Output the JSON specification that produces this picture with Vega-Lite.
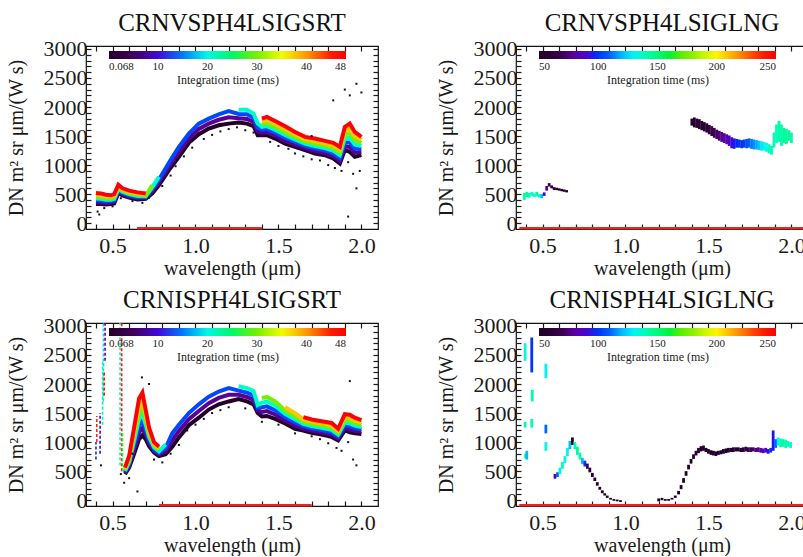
{
"$schema":"https://vega.github.io/schema/vega-lite/v6.json",
"padding":{"left":5,"top":10,"right":0,"bottom":0},
"config":{
 "font":"Liberation Serif",
 "view":{"stroke":"#111","strokeWidth":1.2},
 "axis":{"labelFont":"Liberation Serif","titleFont":"Liberation Serif","labelFontSize":22,"titleFontSize":20,"titleFontWeight":"normal","labelColor":"#1a1a1a","titleColor":"#1a1a1a","tickColor":"#1a1a1a","tickWidth":1.2,"domain":false,"grid":false,"labelOverlap":false,"labelFlush":false,"labelBound":false},
 "title":{"font":"Liberation Serif","fontSize":25,"fontWeight":"normal","color":"#111","offset":2},
 "legend":{"orient":"none","direction":"horizontal","gradientLength":237,"gradientThickness":8,"gradientStrokeWidth":0,"labelFont":"Liberation Serif","labelFontSize":11,"labelColor":"#222","titleFont":"Liberation Serif","titleFontSize":12,"titleFontWeight":"normal","titleColor":"#222","titleOrient":"bottom","titleAnchor":"middle","titlePadding":3,"labelOffset":4,"padding":0}
},
"datasets":{
 "zA":[{"w":0.647,"v":-88},{"w":1.403,"v":-88}],
 "zB":[{"w":0.36,"v":-88},{"w":2.1,"v":-88}],
 "zC":[{"w":0.78,"v":-88},{"w":1.7,"v":-88}],
 "zD":[{"w":0.36,"v":-88},{"w":2.1,"v":-88}],
 "A":[
{"w":0.40,"v":330,"t":0.068,"s":"0"},{"w":0.43,"v":330,"t":0.068,"s":"0"},{"w":0.46,"v":320,"t":0.068,"s":"0"},{"w":0.49,"v":330,"t":0.068,"s":"0"},{"w":0.51,"v":340,"t":0.068,"s":"0"},{"w":0.535,"v":520,"t":0.068,"s":"0"},{"w":0.56,"v":480,"t":0.068,"s":"0"},{"w":0.60,"v":440,"t":0.068,"s":"0"},{"w":0.65,"v":410,"t":0.068,"s":"0"},{"w":0.70,"v":420,"t":0.068,"s":"0"},{"w":0.74,"v":514,"t":0.068,"s":"0"},{"w":0.78,"v":657,"t":0.068,"s":"0"},{"w":0.84,"v":914,"t":0.068,"s":"0"},{"w":0.90,"v":1143,"t":0.068,"s":"0"},{"w":0.96,"v":1383,"t":0.068,"s":"0"},{"w":1.02,"v":1531,"t":0.068,"s":"0"},{"w":1.08,"v":1628,"t":0.068,"s":"0"},{"w":1.14,"v":1686,"t":0.068,"s":"0"},{"w":1.20,"v":1714,"t":0.068,"s":"0"},{"w":1.26,"v":1731,"t":0.068,"s":"0"},{"w":1.31,"v":1714,"t":0.068,"s":"0"},{"w":1.35,"v":1669,"t":0.068,"s":"0"},{"w":1.375,"v":1514,"t":0.068,"s":"0"},{"w":1.40,"v":1514,"t":0.068,"s":"0"},{"w":1.43,"v":1514,"t":0.068,"s":"0"},{"w":1.48,"v":1457,"t":0.068,"s":"0"},{"w":1.54,"v":1371,"t":0.068,"s":"0"},{"w":1.60,"v":1314,"t":0.068,"s":"0"},{"w":1.66,"v":1257,"t":0.068,"s":"0"},{"w":1.72,"v":1200,"t":0.068,"s":"0"},{"w":1.78,"v":1171,"t":0.068,"s":"0"},{"w":1.83,"v":1114,"t":0.068,"s":"0"},{"w":1.87,"v":1028,"t":0.068,"s":"0"},{"w":1.90,"v":1257,"t":0.068,"s":"0"},{"w":1.93,"v":1228,"t":0.068,"s":"0"},{"w":1.96,"v":1143,"t":0.068,"s":"0"},{"w":2.00,"v":1171,"t":0.068,"s":"0"},
{"w":0.40,"v":362,"t":7,"s":"1"},{"w":0.43,"v":360,"t":7,"s":"1"},{"w":0.46,"v":348,"t":7,"s":"1"},{"w":0.49,"v":355,"t":7,"s":"1"},{"w":0.51,"v":367,"t":7,"s":"1"},{"w":0.535,"v":543,"t":7,"s":"1"},{"w":0.56,"v":500,"t":7,"s":"1"},{"w":0.60,"v":460,"t":7,"s":"1"},{"w":0.65,"v":430,"t":7,"s":"1"},{"w":0.70,"v":435,"t":7,"s":"1"},{"w":0.74,"v":550,"t":7,"s":"1"},{"w":0.78,"v":705,"t":7,"s":"1"},{"w":0.84,"v":977,"t":7,"s":"1"},{"w":0.90,"v":1228,"t":7,"s":"1"},{"w":0.96,"v":1463,"t":7,"s":"1"},{"w":1.02,"v":1622,"t":7,"s":"1"},{"w":1.08,"v":1714,"t":7,"s":"1"},{"w":1.14,"v":1780,"t":7,"s":"1"},{"w":1.20,"v":1822,"t":7,"s":"1"},{"w":1.26,"v":1805,"t":7,"s":"1"},{"w":1.31,"v":1794,"t":7,"s":"1"},{"w":1.35,"v":1741,"t":7,"s":"1"},{"w":1.375,"v":1581,"t":7,"s":"1"},{"w":1.40,"v":1562,"t":7,"s":"1"},{"w":1.43,"v":1567,"t":7,"s":"1"},{"w":1.48,"v":1508,"t":7,"s":"1"},{"w":1.54,"v":1421,"t":7,"s":"1"},{"w":1.60,"v":1357,"t":7,"s":"1"},{"w":1.66,"v":1295,"t":7,"s":"1"},{"w":1.72,"v":1243,"t":7,"s":"1"},{"w":1.78,"v":1212,"t":7,"s":"1"},{"w":1.83,"v":1159,"t":7,"s":"1"},{"w":1.87,"v":1076,"t":7,"s":"1"},{"w":1.90,"v":1324,"t":7,"s":"1"},{"w":1.93,"v":1309,"t":7,"s":"1"},{"w":1.96,"v":1214,"t":7,"s":"1"},{"w":2.00,"v":1224,"t":7,"s":"1"},
{"w":0.40,"v":393,"t":13,"s":"2"},{"w":0.43,"v":390,"t":13,"s":"2"},{"w":0.46,"v":377,"t":13,"s":"2"},{"w":0.49,"v":380,"t":13,"s":"2"},{"w":0.51,"v":393,"t":13,"s":"2"},{"w":0.535,"v":567,"t":13,"s":"2"},{"w":0.56,"v":520,"t":13,"s":"2"},{"w":0.60,"v":480,"t":13,"s":"2"},{"w":0.65,"v":450,"t":13,"s":"2"},{"w":0.70,"v":450,"t":13,"s":"2"},{"w":0.74,"v":586,"t":13,"s":"2"},{"w":0.78,"v":752,"t":13,"s":"2"},{"w":0.84,"v":1040,"t":13,"s":"2"},{"w":0.90,"v":1314,"t":13,"s":"2"},{"w":0.96,"v":1543,"t":13,"s":"2"},{"w":1.02,"v":1714,"t":13,"s":"2"},{"w":1.08,"v":1800,"t":13,"s":"2"},{"w":1.14,"v":1874,"t":13,"s":"2"},{"w":1.20,"v":1931,"t":13,"s":"2"},{"w":1.26,"v":1880,"t":13,"s":"2"},{"w":1.31,"v":1874,"t":13,"s":"2"},{"w":1.35,"v":1814,"t":13,"s":"2"},{"w":1.375,"v":1647,"t":13,"s":"2"},{"w":1.40,"v":1609,"t":13,"s":"2"},{"w":1.43,"v":1619,"t":13,"s":"2"},{"w":1.48,"v":1558,"t":13,"s":"2"},{"w":1.54,"v":1470,"t":13,"s":"2"},{"w":1.60,"v":1400,"t":13,"s":"2"},{"w":1.66,"v":1333,"t":13,"s":"2"},{"w":1.72,"v":1286,"t":13,"s":"2"},{"w":1.78,"v":1253,"t":13,"s":"2"},{"w":1.83,"v":1204,"t":13,"s":"2"},{"w":1.87,"v":1123,"t":13,"s":"2"},{"w":1.90,"v":1390,"t":13,"s":"2"},{"w":1.93,"v":1390,"t":13,"s":"2"},{"w":1.96,"v":1286,"t":13,"s":"2"},{"w":2.00,"v":1276,"t":13,"s":"2"},
{"w":0.40,"v":425,"t":21,"s":"3a"},{"w":0.43,"v":420,"t":21,"s":"3a"},{"w":0.46,"v":405,"t":21,"s":"3a"},{"w":0.49,"v":405,"t":21,"s":"3a"},{"w":0.51,"v":420,"t":21,"s":"3a"},{"w":0.535,"v":590,"t":21,"s":"3a"},{"w":0.56,"v":540,"t":21,"s":"3a"},{"w":0.60,"v":500,"t":21,"s":"3a"},{"w":0.65,"v":470,"t":21,"s":"3a"},{"w":0.70,"v":465,"t":21,"s":"3a"},{"w":0.74,"v":621,"t":21,"s":"3a"},{"w":0.78,"v":800,"t":21,"s":"3a"},
{"w":1.26,"v":1954,"t":21,"s":"3b"},{"w":1.31,"v":1954,"t":21,"s":"3b"},{"w":1.35,"v":1886,"t":21,"s":"3b"},{"w":1.375,"v":1714,"t":21,"s":"3b"},{"w":1.40,"v":1657,"t":21,"s":"3b"},{"w":1.43,"v":1672,"t":21,"s":"3b"},{"w":1.48,"v":1609,"t":21,"s":"3b"},{"w":1.54,"v":1520,"t":21,"s":"3b"},{"w":1.60,"v":1443,"t":21,"s":"3b"},{"w":1.66,"v":1372,"t":21,"s":"3b"},{"w":1.72,"v":1329,"t":21,"s":"3b"},{"w":1.78,"v":1294,"t":21,"s":"3b"},{"w":1.83,"v":1249,"t":21,"s":"3b"},{"w":1.87,"v":1171,"t":21,"s":"3b"},{"w":1.90,"v":1457,"t":21,"s":"3b"},{"w":1.93,"v":1471,"t":21,"s":"3b"},{"w":1.96,"v":1357,"t":21,"s":"3b"},{"w":2.00,"v":1329,"t":21,"s":"3b"},
{"w":0.40,"v":457,"t":30,"s":"4a"},{"w":0.43,"v":450,"t":30,"s":"4a"},{"w":0.46,"v":433,"t":30,"s":"4a"},{"w":0.49,"v":430,"t":30,"s":"4a"},{"w":0.51,"v":447,"t":30,"s":"4a"},{"w":0.535,"v":613,"t":30,"s":"4a"},{"w":0.56,"v":560,"t":30,"s":"4a"},{"w":0.60,"v":520,"t":30,"s":"4a"},{"w":0.65,"v":490,"t":30,"s":"4a"},{"w":0.70,"v":480,"t":30,"s":"4a"},{"w":0.74,"v":657,"t":30,"s":"4a"},
{"w":1.40,"v":1705,"t":30,"s":"4b"},{"w":1.43,"v":1724,"t":30,"s":"4b"},{"w":1.48,"v":1659,"t":30,"s":"4b"},{"w":1.54,"v":1570,"t":30,"s":"4b"},{"w":1.60,"v":1485,"t":30,"s":"4b"},{"w":1.66,"v":1410,"t":30,"s":"4b"},{"w":1.72,"v":1371,"t":30,"s":"4b"},{"w":1.78,"v":1335,"t":30,"s":"4b"},{"w":1.83,"v":1293,"t":30,"s":"4b"},{"w":1.87,"v":1219,"t":30,"s":"4b"},{"w":1.90,"v":1524,"t":30,"s":"4b"},{"w":1.93,"v":1552,"t":30,"s":"4b"},{"w":1.96,"v":1428,"t":30,"s":"4b"},{"w":2.00,"v":1381,"t":30,"s":"4b"},
{"w":0.40,"v":488,"t":38,"s":"5a"},{"w":0.43,"v":480,"t":38,"s":"5a"},{"w":0.46,"v":462,"t":38,"s":"5a"},{"w":0.49,"v":455,"t":38,"s":"5a"},{"w":0.51,"v":473,"t":38,"s":"5a"},{"w":0.535,"v":637,"t":38,"s":"5a"},{"w":0.56,"v":580,"t":38,"s":"5a"},{"w":0.60,"v":540,"t":38,"s":"5a"},{"w":0.65,"v":510,"t":38,"s":"5a"},{"w":0.70,"v":495,"t":38,"s":"5a"},
{"w":1.40,"v":1752,"t":38,"s":"5b"},{"w":1.43,"v":1777,"t":38,"s":"5b"},{"w":1.48,"v":1710,"t":38,"s":"5b"},{"w":1.54,"v":1619,"t":38,"s":"5b"},{"w":1.60,"v":1528,"t":38,"s":"5b"},{"w":1.66,"v":1448,"t":38,"s":"5b"},{"w":1.72,"v":1414,"t":38,"s":"5b"},{"w":1.78,"v":1376,"t":38,"s":"5b"},{"w":1.83,"v":1338,"t":38,"s":"5b"},{"w":1.87,"v":1266,"t":38,"s":"5b"},{"w":1.90,"v":1590,"t":38,"s":"5b"},{"w":1.93,"v":1633,"t":38,"s":"5b"},{"w":1.96,"v":1500,"t":38,"s":"5b"},{"w":2.00,"v":1434,"t":38,"s":"5b"},
{"w":0.40,"v":520,"t":48,"s":"6a"},{"w":0.43,"v":510,"t":48,"s":"6a"},{"w":0.46,"v":490,"t":48,"s":"6a"},{"w":0.49,"v":480,"t":48,"s":"6a"},{"w":0.51,"v":500,"t":48,"s":"6a"},{"w":0.535,"v":660,"t":48,"s":"6a"},{"w":0.56,"v":600,"t":48,"s":"6a"},{"w":0.60,"v":560,"t":48,"s":"6a"},{"w":0.65,"v":530,"t":48,"s":"6a"},{"w":0.70,"v":510,"t":48,"s":"6a"},
{"w":1.40,"v":1800,"t":48,"s":"6b"},{"w":1.43,"v":1829,"t":48,"s":"6b"},{"w":1.48,"v":1760,"t":48,"s":"6b"},{"w":1.54,"v":1669,"t":48,"s":"6b"},{"w":1.60,"v":1571,"t":48,"s":"6b"},{"w":1.66,"v":1486,"t":48,"s":"6b"},{"w":1.72,"v":1457,"t":48,"s":"6b"},{"w":1.78,"v":1417,"t":48,"s":"6b"},{"w":1.83,"v":1383,"t":48,"s":"6b"},{"w":1.87,"v":1314,"t":48,"s":"6b"},{"w":1.90,"v":1657,"t":48,"s":"6b"},{"w":1.93,"v":1714,"t":48,"s":"6b"},{"w":1.96,"v":1571,"t":48,"s":"6b"},{"w":2.00,"v":1486,"t":48,"s":"6b"}
 ],
 "pA":[{"w":0.41,"v":200},{"w":0.42,"v":150},{"w":0.45,"v":260},{"w":0.5,"v":290},{"w":0.55,"v":430},{"w":0.62,"v":380},{"w":0.68,"v":350},{"w":0.72,"v":440},{"w":0.8,"v":640},{"w":0.85,"v":820},{"w":0.88,"v":980},{"w":0.93,"v":1150},{"w":0.98,"v":1300},{"w":1.05,"v":1450},{"w":1.1,"v":1520},{"w":1.15,"v":1580},{"w":1.2,"v":1620},{"w":1.25,"v":1650},{"w":1.3,"v":1600},{"w":1.35,"v":1560},{"w":1.45,"v":1400},{"w":1.5,"v":1330},{"w":1.56,"v":1280},{"w":1.6,"v":1200},{"w":1.65,"v":1150},{"w":1.7,"v":1100},{"w":1.75,"v":1080},{"w":1.8,"v":1000},{"w":1.84,"v":950},{"w":1.88,"v":900},{"w":1.92,"v":1050},{"w":1.95,"v":850},{"w":1.97,"v":600},{"w":1.99,"v":900},{"w":1.83,"v":2114},{"w":1.9,"v":2300},{"w":1.97,"v":2400},{"w":2.0,"v":2250},{"w":1.93,"v":2200},{"w":1.92,"v":114},{"w":1.7,"v":1500}],
 "B":[
{"w":0.39,"lo":400,"hi":520,"t":140},{"w":0.405,"lo":450,"hi":540,"t":145},{"w":0.42,"lo":440,"hi":520,"t":140},{"w":0.435,"lo":470,"hi":540,"t":135},{"w":0.45,"lo":450,"hi":510,"t":140},{"w":0.465,"lo":460,"hi":540,"t":145},{"w":0.48,"lo":440,"hi":500,"t":130},{"w":0.495,"lo":430,"hi":500,"t":120},{"w":0.51,"lo":470,"hi":530,"t":95},{"w":0.525,"lo":560,"hi":640,"t":80},{"w":0.54,"lo":630,"hi":690,"t":70},{"w":0.555,"lo":600,"hi":650,"t":60},{"w":0.57,"lo":570,"hi":620,"t":55},{"w":0.585,"lo":570,"hi":610,"t":55},{"w":0.6,"lo":560,"hi":600,"t":52},{"w":0.615,"lo":550,"hi":590,"t":52},{"w":0.63,"lo":540,"hi":580,"t":52},{"w":0.645,"lo":530,"hi":570,"t":52},
{"w":1.4,"lo":1680,"hi":1800,"t":55},{"w":1.415,"lo":1650,"hi":1820,"t":55},{"w":1.43,"lo":1640,"hi":1800,"t":58},{"w":1.445,"lo":1620,"hi":1790,"t":60},{"w":1.46,"lo":1600,"hi":1760,"t":60},{"w":1.475,"lo":1580,"hi":1740,"t":62},{"w":1.49,"lo":1560,"hi":1720,"t":64},{"w":1.505,"lo":1530,"hi":1690,"t":66},{"w":1.52,"lo":1500,"hi":1670,"t":68},{"w":1.535,"lo":1470,"hi":1640,"t":70},{"w":1.55,"lo":1450,"hi":1610,"t":72},{"w":1.565,"lo":1420,"hi":1590,"t":75},{"w":1.58,"lo":1400,"hi":1570,"t":78},{"w":1.595,"lo":1380,"hi":1550,"t":80},{"w":1.61,"lo":1360,"hi":1530,"t":84},{"w":1.625,"lo":1330,"hi":1510,"t":88},{"w":1.64,"lo":1290,"hi":1480,"t":92},{"w":1.655,"lo":1280,"hi":1460,"t":95},{"w":1.67,"lo":1300,"hi":1450,"t":98},{"w":1.685,"lo":1300,"hi":1440,"t":100},{"w":1.7,"lo":1290,"hi":1430,"t":100},{"w":1.715,"lo":1300,"hi":1440,"t":102},{"w":1.73,"lo":1290,"hi":1450,"t":105},{"w":1.745,"lo":1300,"hi":1460,"t":108},{"w":1.76,"lo":1280,"hi":1450,"t":112},{"w":1.775,"lo":1270,"hi":1440,"t":115},{"w":1.79,"lo":1270,"hi":1430,"t":118},{"w":1.805,"lo":1260,"hi":1420,"t":122},{"w":1.82,"lo":1250,"hi":1410,"t":126},{"w":1.835,"lo":1250,"hi":1400,"t":130},{"w":1.85,"lo":1230,"hi":1380,"t":134},{"w":1.865,"lo":1200,"hi":1360,"t":138},{"w":1.88,"lo":1180,"hi":1330,"t":140},{"w":1.895,"lo":1300,"hi":1560,"t":140},{"w":1.91,"lo":1380,"hi":1700,"t":138},{"w":1.925,"lo":1400,"hi":1760,"t":142},{"w":1.94,"lo":1330,"hi":1700,"t":140},{"w":1.955,"lo":1380,"hi":1640,"t":145},{"w":1.97,"lo":1360,"hi":1620,"t":142},{"w":1.985,"lo":1420,"hi":1600,"t":145},{"w":2.0,"lo":1380,"hi":1560,"t":140}
 ],
 "C":[
{"w":0.575,"v":450,"t":0.068,"s":"0"},{"w":0.60,"v":560,"t":0.068,"s":"0"},{"w":0.63,"v":800,"t":0.068,"s":"0"},{"w":0.66,"v":1050,"t":0.068,"s":"0"},{"w":0.68,"v":1120,"t":0.068,"s":"0"},{"w":0.70,"v":1050,"t":0.068,"s":"0"},{"w":0.72,"v":930,"t":0.068,"s":"0"},{"w":0.75,"v":820,"t":0.068,"s":"0"},{"w":0.78,"v":760,"t":0.068,"s":"0"},{"w":0.82,"v":790,"t":0.068,"s":"0"},{"w":0.86,"v":920,"t":0.068,"s":"0"},{"w":0.90,"v":1080,"t":0.068,"s":"0"},{"w":0.96,"v":1290,"t":0.068,"s":"0"},{"w":1.02,"v":1420,"t":0.068,"s":"0"},{"w":1.08,"v":1560,"t":0.068,"s":"0"},{"w":1.14,"v":1650,"t":0.068,"s":"0"},{"w":1.20,"v":1700,"t":0.068,"s":"0"},{"w":1.26,"v":1740,"t":0.068,"s":"0"},{"w":1.31,"v":1700,"t":0.068,"s":"0"},{"w":1.35,"v":1650,"t":0.068,"s":"0"},{"w":1.375,"v":1500,"t":0.068,"s":"0"},{"w":1.40,"v":1440,"t":0.068,"s":"0"},{"w":1.43,"v":1450,"t":0.068,"s":"0"},{"w":1.48,"v":1400,"t":0.068,"s":"0"},{"w":1.54,"v":1320,"t":0.068,"s":"0"},{"w":1.60,"v":1230,"t":0.068,"s":"0"},{"w":1.65,"v":1200,"t":0.068,"s":"0"},{"w":1.70,"v":1160,"t":0.068,"s":"0"},{"w":1.76,"v":1130,"t":0.068,"s":"0"},{"w":1.82,"v":1090,"t":0.068,"s":"0"},{"w":1.86,"v":1030,"t":0.068,"s":"0"},{"w":1.90,"v":1200,"t":0.068,"s":"0"},{"w":1.93,"v":1170,"t":0.068,"s":"0"},{"w":1.96,"v":1150,"t":0.068,"s":"0"},{"w":2.00,"v":1140,"t":0.068,"s":"0"},
{"w":0.575,"v":468,"t":7,"s":"1"},{"w":0.60,"v":593,"t":7,"s":"1"},{"w":0.63,"v":875,"t":7,"s":"1"},{"w":0.66,"v":1167,"t":7,"s":"1"},{"w":0.68,"v":1242,"t":7,"s":"1"},{"w":0.70,"v":1133,"t":7,"s":"1"},{"w":0.72,"v":983,"t":7,"s":"1"},{"w":0.75,"v":850,"t":7,"s":"1"},{"w":0.78,"v":787,"t":7,"s":"1"},{"w":0.82,"v":847,"t":7,"s":"1"},{"w":0.86,"v":1035,"t":7,"s":"1"},{"w":0.90,"v":1190,"t":7,"s":"1"},{"w":0.96,"v":1395,"t":7,"s":"1"},{"w":1.02,"v":1535,"t":7,"s":"1"},{"w":1.08,"v":1670,"t":7,"s":"1"},{"w":1.14,"v":1760,"t":7,"s":"1"},{"w":1.20,"v":1815,"t":7,"s":"1"},{"w":1.26,"v":1813,"t":7,"s":"1"},{"w":1.31,"v":1777,"t":7,"s":"1"},{"w":1.35,"v":1727,"t":7,"s":"1"},{"w":1.375,"v":1547,"t":7,"s":"1"},{"w":1.40,"v":1520,"t":7,"s":"1"},{"w":1.43,"v":1533,"t":7,"s":"1"},{"w":1.48,"v":1475,"t":7,"s":"1"},{"w":1.54,"v":1376,"t":7,"s":"1"},{"w":1.60,"v":1284,"t":7,"s":"1"},{"w":1.65,"v":1238,"t":7,"s":"1"},{"w":1.70,"v":1198,"t":7,"s":"1"},{"w":1.76,"v":1168,"t":7,"s":"1"},{"w":1.82,"v":1130,"t":7,"s":"1"},{"w":1.86,"v":1063,"t":7,"s":"1"},{"w":1.90,"v":1247,"t":7,"s":"1"},{"w":1.93,"v":1220,"t":7,"s":"1"},{"w":1.96,"v":1195,"t":7,"s":"1"},{"w":2.00,"v":1180,"t":7,"s":"1"},
{"w":0.575,"v":487,"t":13,"s":"2"},{"w":0.60,"v":627,"t":13,"s":"2"},{"w":0.63,"v":950,"t":13,"s":"2"},{"w":0.66,"v":1283,"t":13,"s":"2"},{"w":0.68,"v":1363,"t":13,"s":"2"},{"w":0.70,"v":1217,"t":13,"s":"2"},{"w":0.72,"v":1037,"t":13,"s":"2"},{"w":0.75,"v":880,"t":13,"s":"2"},{"w":0.78,"v":813,"t":13,"s":"2"},{"w":0.82,"v":903,"t":13,"s":"2"},{"w":0.86,"v":1150,"t":13,"s":"2"},{"w":0.90,"v":1300,"t":13,"s":"2"},{"w":0.96,"v":1500,"t":13,"s":"2"},{"w":1.02,"v":1650,"t":13,"s":"2"},{"w":1.08,"v":1780,"t":13,"s":"2"},{"w":1.14,"v":1870,"t":13,"s":"2"},{"w":1.20,"v":1930,"t":13,"s":"2"},{"w":1.26,"v":1887,"t":13,"s":"2"},{"w":1.31,"v":1853,"t":13,"s":"2"},{"w":1.35,"v":1803,"t":13,"s":"2"},{"w":1.375,"v":1593,"t":13,"s":"2"},{"w":1.40,"v":1600,"t":13,"s":"2"},{"w":1.43,"v":1615,"t":13,"s":"2"},{"w":1.48,"v":1550,"t":13,"s":"2"},{"w":1.54,"v":1432,"t":13,"s":"2"},{"w":1.60,"v":1338,"t":13,"s":"2"},{"w":1.65,"v":1277,"t":13,"s":"2"},{"w":1.70,"v":1237,"t":13,"s":"2"},{"w":1.76,"v":1207,"t":13,"s":"2"},{"w":1.82,"v":1170,"t":13,"s":"2"},{"w":1.86,"v":1097,"t":13,"s":"2"},{"w":1.90,"v":1293,"t":13,"s":"2"},{"w":1.93,"v":1270,"t":13,"s":"2"},{"w":1.96,"v":1240,"t":13,"s":"2"},{"w":2.00,"v":1220,"t":13,"s":"2"},
{"w":0.575,"v":505,"t":21,"s":"3a"},{"w":0.60,"v":660,"t":21,"s":"3a"},{"w":0.63,"v":1025,"t":21,"s":"3a"},{"w":0.66,"v":1400,"t":21,"s":"3a"},{"w":0.68,"v":1485,"t":21,"s":"3a"},{"w":0.70,"v":1300,"t":21,"s":"3a"},{"w":0.72,"v":1090,"t":21,"s":"3a"},{"w":0.75,"v":910,"t":21,"s":"3a"},{"w":0.78,"v":840,"t":21,"s":"3a"},{"w":0.82,"v":960,"t":21,"s":"3a"},
{"w":1.26,"v":1960,"t":21,"s":"3b"},{"w":1.31,"v":1930,"t":21,"s":"3b"},{"w":1.35,"v":1880,"t":21,"s":"3b"},{"w":1.375,"v":1640,"t":21,"s":"3b"},{"w":1.40,"v":1680,"t":21,"s":"3b"},{"w":1.43,"v":1698,"t":21,"s":"3b"},{"w":1.48,"v":1625,"t":21,"s":"3b"},{"w":1.54,"v":1488,"t":21,"s":"3b"},{"w":1.60,"v":1392,"t":21,"s":"3b"},{"w":1.65,"v":1315,"t":21,"s":"3b"},{"w":1.70,"v":1275,"t":21,"s":"3b"},{"w":1.76,"v":1245,"t":21,"s":"3b"},{"w":1.82,"v":1210,"t":21,"s":"3b"},{"w":1.86,"v":1130,"t":21,"s":"3b"},{"w":1.90,"v":1340,"t":21,"s":"3b"},{"w":1.93,"v":1320,"t":21,"s":"3b"},{"w":1.96,"v":1285,"t":21,"s":"3b"},{"w":2.00,"v":1260,"t":21,"s":"3b"},
{"w":0.575,"v":523,"t":30,"s":"4a"},{"w":0.60,"v":693,"t":30,"s":"4a"},{"w":0.63,"v":1100,"t":30,"s":"4a"},{"w":0.66,"v":1517,"t":30,"s":"4a"},{"w":0.68,"v":1607,"t":30,"s":"4a"},{"w":0.70,"v":1383,"t":30,"s":"4a"},{"w":0.72,"v":1143,"t":30,"s":"4a"},{"w":0.75,"v":940,"t":30,"s":"4a"},{"w":0.78,"v":867,"t":30,"s":"4a"},
{"w":1.40,"v":1760,"t":30,"s":"4b"},{"w":1.43,"v":1780,"t":30,"s":"4b"},{"w":1.48,"v":1700,"t":30,"s":"4b"},{"w":1.54,"v":1544,"t":30,"s":"4b"},{"w":1.60,"v":1446,"t":30,"s":"4b"},{"w":1.65,"v":1353,"t":30,"s":"4b"},{"w":1.70,"v":1313,"t":30,"s":"4b"},{"w":1.76,"v":1283,"t":30,"s":"4b"},{"w":1.82,"v":1250,"t":30,"s":"4b"},{"w":1.86,"v":1163,"t":30,"s":"4b"},{"w":1.90,"v":1387,"t":30,"s":"4b"},{"w":1.93,"v":1370,"t":30,"s":"4b"},{"w":1.96,"v":1330,"t":30,"s":"4b"},{"w":2.00,"v":1300,"t":30,"s":"4b"},
{"w":0.575,"v":542,"t":38,"s":"5a"},{"w":0.60,"v":727,"t":38,"s":"5a"},{"w":0.63,"v":1175,"t":38,"s":"5a"},{"w":0.66,"v":1633,"t":38,"s":"5a"},{"w":0.68,"v":1728,"t":38,"s":"5a"},{"w":0.70,"v":1467,"t":38,"s":"5a"},{"w":0.72,"v":1197,"t":38,"s":"5a"},{"w":0.75,"v":970,"t":38,"s":"5a"},{"w":0.78,"v":893,"t":38,"s":"5a"},
{"w":1.54,"v":1600,"t":38,"s":"5b"},{"w":1.60,"v":1500,"t":38,"s":"5b"},{"w":1.65,"v":1392,"t":38,"s":"5b"},{"w":1.70,"v":1352,"t":38,"s":"5b"},{"w":1.76,"v":1322,"t":38,"s":"5b"},{"w":1.82,"v":1290,"t":38,"s":"5b"},{"w":1.86,"v":1197,"t":38,"s":"5b"},{"w":1.90,"v":1433,"t":38,"s":"5b"},{"w":1.93,"v":1420,"t":38,"s":"5b"},{"w":1.96,"v":1375,"t":38,"s":"5b"},{"w":2.00,"v":1340,"t":38,"s":"5b"},
{"w":0.575,"v":560,"t":48,"s":"6a"},{"w":0.60,"v":760,"t":48,"s":"6a"},{"w":0.63,"v":1250,"t":48,"s":"6a"},{"w":0.66,"v":1750,"t":48,"s":"6a"},{"w":0.68,"v":1850,"t":48,"s":"6a"},{"w":0.70,"v":1550,"t":48,"s":"6a"},{"w":0.72,"v":1250,"t":48,"s":"6a"},{"w":0.75,"v":1000,"t":48,"s":"6a"},{"w":0.78,"v":920,"t":48,"s":"6a"},
{"w":1.65,"v":1430,"t":48,"s":"6b"},{"w":1.70,"v":1390,"t":48,"s":"6b"},{"w":1.76,"v":1360,"t":48,"s":"6b"},{"w":1.82,"v":1330,"t":48,"s":"6b"},{"w":1.86,"v":1230,"t":48,"s":"6b"},{"w":1.90,"v":1480,"t":48,"s":"6b"},{"w":1.93,"v":1470,"t":48,"s":"6b"},{"w":1.96,"v":1420,"t":48,"s":"6b"},{"w":2.00,"v":1380,"t":48,"s":"6b"}
 ],
 "sC":[{"w":0.400,"lo":700,"hi":1000,"t":12},{"w":0.405,"lo":1000,"hi":1450,"t":44},{"w":0.425,"lo":800,"hi":1500,"t":10},{"w":0.44,"lo":1300,"hi":2400,"t":22},{"w":0.445,"lo":1700,"hi":3100,"t":18},{"w":0.45,"lo":1800,"hi":2200,"t":46},{"w":0.455,"lo":2400,"hi":3100,"t":8},{"w":0.545,"lo":600,"hi":3100,"t":20},{"w":0.555,"lo":500,"hi":3100,"t":46},{"w":0.56,"lo":500,"hi":1200,"t":28}],
 "pC":[{"w":0.57,"v":300},{"w":0.6,"v":380},{"w":0.65,"v":150},{"w":0.62,"v":800},{"w":0.677,"v":2114},{"w":0.72,"v":2000},{"w":0.75,"v":700},{"w":0.8,"v":650},{"w":0.85,"v":800},{"w":0.9,"v":950},{"w":0.95,"v":1200},{"w":1.0,"v":1300},{"w":1.05,"v":1400},{"w":1.1,"v":1500},{"w":1.15,"v":1550},{"w":1.2,"v":1600},{"w":1.3,"v":1580},{"w":1.4,"v":1350},{"w":1.5,"v":1300},{"w":1.6,"v":1150},{"w":1.7,"v":1100},{"w":1.75,"v":1050},{"w":1.8,"v":980},{"w":1.85,"v":900},{"w":1.88,"v":850},{"w":1.92,"v":1000},{"w":1.95,"v":700},{"w":1.97,"v":600},{"w":1.93,"v":2050},{"w":0.43,"v":600},{"w":0.55,"v":450}],
 "D":[
{"w":0.395,"lo":2400,"hi":2700,"t":135},{"w":0.395,"lo":1250,"hi":1350,"t":140},{"w":0.398,"lo":720,"hi":800,"t":140},{"w":0.405,"lo":700,"hi":850,"t":120},{"w":0.435,"lo":2200,"hi":2800,"t":100},{"w":0.438,"lo":1700,"hi":1900,"t":140},{"w":0.435,"lo":1250,"hi":1400,"t":140},{"w":0.52,"lo":2100,"hi":2350,"t":130},{"w":0.52,"lo":1150,"hi":1300,"t":110},{"w":0.52,"lo":850,"hi":1000,"t":135},
{"w":0.575,"lo":370,"hi":450,"t":80},{"w":0.59,"lo":400,"hi":480,"t":110},{"w":0.605,"lo":450,"hi":560,"t":130},{"w":0.62,"lo":540,"hi":660,"t":140},{"w":0.635,"lo":640,"hi":760,"t":135},{"w":0.65,"lo":760,"hi":900,"t":130},{"w":0.665,"lo":880,"hi":1020,"t":120},{"w":0.68,"lo":950,"hi":1080,"t":60},{"w":0.695,"lo":880,"hi":1000,"t":140},{"w":0.71,"lo":780,"hi":920,"t":145},{"w":0.725,"lo":700,"hi":820,"t":140},{"w":0.74,"lo":620,"hi":730,"t":120},{"w":0.755,"lo":580,"hi":680,"t":100},{"w":0.77,"lo":540,"hi":630,"t":70},{"w":0.785,"lo":480,"hi":560,"t":55},{"w":0.8,"lo":400,"hi":470,"t":50},{"w":0.815,"lo":330,"hi":390,"t":50},{"w":0.83,"lo":250,"hi":310,"t":50},{"w":0.845,"lo":180,"hi":230,"t":50},{"w":0.86,"lo":120,"hi":170,"t":50},{"w":0.875,"lo":80,"hi":120,"t":50},{"w":0.89,"lo":40,"hi":80,"t":50},{"w":0.91,"lo":10,"hi":40,"t":50},{"w":0.93,"lo":-10,"hi":20,"t":50},{"w":0.95,"lo":-20,"hi":10,"t":50},{"w":0.97,"lo":-30,"hi":0,"t":50},
{"w":1.2,"lo":-20,"hi":30,"t":50},{"w":1.22,"lo":0,"hi":40,"t":50},{"w":1.24,"lo":-10,"hi":20,"t":50},{"w":1.26,"lo":-10,"hi":20,"t":50},{"w":1.28,"lo":10,"hi":40,"t":50},{"w":1.3,"lo":40,"hi":80,"t":50},{"w":1.32,"lo":100,"hi":160,"t":50},{"w":1.335,"lo":190,"hi":260,"t":50},{"w":1.35,"lo":300,"hi":380,"t":50},{"w":1.365,"lo":420,"hi":500,"t":50},{"w":1.38,"lo":530,"hi":610,"t":50},{"w":1.395,"lo":630,"hi":710,"t":50},{"w":1.41,"lo":710,"hi":790,"t":50},{"w":1.425,"lo":770,"hi":850,"t":50},{"w":1.44,"lo":810,"hi":900,"t":50},{"w":1.455,"lo":840,"hi":930,"t":50},{"w":1.47,"lo":850,"hi":940,"t":50},{"w":1.485,"lo":830,"hi":900,"t":50},{"w":1.5,"lo":800,"hi":880,"t":50},{"w":1.515,"lo":780,"hi":860,"t":50},{"w":1.53,"lo":770,"hi":850,"t":50},{"w":1.545,"lo":760,"hi":840,"t":50},{"w":1.56,"lo":780,"hi":850,"t":50},{"w":1.575,"lo":790,"hi":860,"t":50},{"w":1.59,"lo":800,"hi":880,"t":50},{"w":1.605,"lo":810,"hi":890,"t":52},{"w":1.62,"lo":820,"hi":900,"t":52},{"w":1.635,"lo":830,"hi":900,"t":52},{"w":1.65,"lo":830,"hi":910,"t":55},{"w":1.665,"lo":840,"hi":910,"t":55},{"w":1.68,"lo":840,"hi":910,"t":58},{"w":1.695,"lo":830,"hi":900,"t":60},{"w":1.71,"lo":830,"hi":910,"t":62},{"w":1.725,"lo":840,"hi":920,"t":65},{"w":1.74,"lo":830,"hi":910,"t":68},{"w":1.755,"lo":830,"hi":910,"t":70},{"w":1.77,"lo":840,"hi":910,"t":72},{"w":1.785,"lo":830,"hi":900,"t":75},{"w":1.8,"lo":830,"hi":910,"t":78},{"w":1.815,"lo":820,"hi":900,"t":82},{"w":1.83,"lo":810,"hi":890,"t":85},{"w":1.845,"lo":820,"hi":900,"t":90},{"w":1.86,"lo":800,"hi":880,"t":95},{"w":1.875,"lo":820,"hi":900,"t":100},{"w":1.89,"lo":850,"hi":1200,"t":95},{"w":1.905,"lo":900,"hi":1050,"t":110},{"w":1.92,"lo":940,"hi":1080,"t":130},{"w":1.935,"lo":910,"hi":1060,"t":140},{"w":1.95,"lo":920,"hi":1050,"t":145},{"w":1.965,"lo":900,"hi":1040,"t":140},{"w":1.98,"lo":920,"hi":1020,"t":140},{"w":1.995,"lo":900,"hi":1000,"t":135}
 ]
},
"columns":2,
"spacing":{"row":8,"column":55},
"resolve":{"scale":{"color":"independent","x":"independent","y":"independent"},"legend":{"color":"independent"}},
"concat":[
{
 "width":292,"height":183,
 "title":"CRNVSPH4LSIGSRT",
 "resolve":{"axis":{"x":"independent","y":"independent"}},
 "layer":[
  {"data":{"name":"zA"},"mark":{"type":"line","color":"#e8262a","strokeWidth":2.5},
   "encoding":{
    "x":{"field":"w","type":"quantitative","scale":{"domain":[0.34,2.1],"nice":false,"zero":false},"axis":{"orient":"bottom","title":"wavelength (μm)","values":[0.4,0.5,0.6,0.7,0.8,0.9,1.0,1.1,1.2,1.3,1.4,1.5,1.6,1.7,1.8,1.9,2.0],"format":".1f","labelExpr":"(datum.value==0.5||datum.value==1||datum.value==1.5||datum.value==2)?datum.label:''","tickSize":-5,"labelPadding":11,"titlePadding":2}},
    "y":{"field":"v","type":"quantitative","scale":{"domain":[-100,3050],"nice":false,"zero":false},"axis":{"orient":"left","title":"DN m² sr μm/(W s)","values":[0,100,200,300,400,500,600,700,800,900,1000,1100,1200,1300,1400,1500,1600,1700,1800,1900,2000,2100,2200,2300,2400,2500,2600,2700,2800,2900,3000],"format":"d","labelExpr":"datum.value%500==0?datum.label:''","tickSize":-5,"labelPadding":4,"titlePadding":17}}}},
  {"data":{"name":"A"},"mark":{"type":"line","strokeWidth":4},
   "encoding":{
    "x":{"field":"w","type":"quantitative","axis":null},
    "y":{"field":"v","type":"quantitative","axis":null},
    "detail":{"field":"s"},
    "color":{"field":"t","type":"quantitative","scale":{"domain":[0.068,3.9,7.26,11.09,14.45,18.76,22.1,27.39,32.18,35.54,40.33,44.17,48],"range":["#000000","#30003c","#5c00a0","#1414f0","#0064ff","#00f0ff","#00ffa0","#00f000","#a0f000","#ffff00","#ff9000","#ff2000","#ff0000"]},"legend":{"title":"Integration time (ms)","legendX":23,"legendY":5,"values":[0.068,10,20,30,40,48],"labelExpr":"''+datum.value"}}}},
  {"data":{"name":"pA"},"mark":{"type":"square","size":4,"color":"#111","opacity":1},
   "encoding":{"x":{"field":"w","type":"quantitative","axis":null},"y":{"field":"v","type":"quantitative","axis":null}}},
  {"data":{"name":"zA"},"mark":{"type":"line","strokeOpacity":0},
   "encoding":{
    "x":{"field":"w","type":"quantitative","axis":{"orient":"top","title":null,"labels":false,"values":[0.4,0.5,0.6,0.7,0.8,0.9,1.0,1.1,1.2,1.3,1.4,1.5,1.6,1.7,1.8,1.9,2.0],"tickSize":-5}},
    "y":{"field":"v","type":"quantitative","axis":{"orient":"right","title":null,"labels":false,"values":[0,100,200,300,400,500,600,700,800,900,1000,1100,1200,1300,1400,1500,1600,1700,1800,1900,2000,2100,2200,2300,2400,2500,2600,2700,2800,2900,3000],"tickSize":-5}}}}
 ]
},
{
 "width":292,"height":183,
 "title":"CRNVSPH4LSIGLNG",
 "resolve":{"axis":{"x":"independent","y":"independent"}},
 "layer":[
  {"data":{"name":"zB"},"mark":{"type":"line","color":"#e8262a","strokeWidth":2.5},
   "encoding":{
    "x":{"field":"w","type":"quantitative","scale":{"domain":[0.34,2.1],"nice":false,"zero":false},"axis":{"orient":"bottom","title":"wavelength (μm)","values":[0.4,0.5,0.6,0.7,0.8,0.9,1.0,1.1,1.2,1.3,1.4,1.5,1.6,1.7,1.8,1.9,2.0],"format":".1f","labelExpr":"(datum.value==0.5||datum.value==1||datum.value==1.5||datum.value==2)?datum.label:''","tickSize":-5,"labelPadding":11,"titlePadding":2}},
    "y":{"field":"v","type":"quantitative","scale":{"domain":[-100,3050],"nice":false,"zero":false},"axis":{"orient":"left","title":"DN m² sr μm/(W s)","values":[0,100,200,300,400,500,600,700,800,900,1000,1100,1200,1300,1400,1500,1600,1700,1800,1900,2000,2100,2200,2300,2400,2500,2600,2700,2800,2900,3000],"format":"d","labelExpr":"datum.value%500==0?datum.label:''","tickSize":-5,"labelPadding":4,"titlePadding":17}}}},
  {"data":{"name":"B"},"mark":{"type":"rule","strokeWidth":2.8},
   "encoding":{
    "x":{"field":"w","type":"quantitative","axis":null},
    "y":{"field":"lo","type":"quantitative","axis":null},
    "y2":{"field":"hi"},
    "color":{"field":"t","type":"quantitative","scale":{"domain":[50,66,80,96,110,128,142,164,184,198,218,234,250],"range":["#000000","#30003c","#5c00a0","#1414f0","#0064ff","#00f0ff","#00ffa0","#00f000","#a0f000","#ffff00","#ff9000","#ff2000","#ff0000"]},"legend":{"title":"Integration time (ms)","legendX":23,"legendY":5,"values":[50,100,150,200,250],"labelExpr":"''+datum.value"}}}},
  {"data":{"name":"zB"},"mark":{"type":"line","strokeOpacity":0},
   "encoding":{
    "x":{"field":"w","type":"quantitative","axis":{"orient":"top","title":null,"labels":false,"values":[0.4,0.5,0.6,0.7,0.8,0.9,1.0,1.1,1.2,1.3,1.4,1.5,1.6,1.7,1.8,1.9,2.0],"tickSize":-5}},
    "y":{"field":"v","type":"quantitative","axis":{"orient":"right","title":null,"labels":false,"values":[0,100,200,300,400,500,600,700,800,900,1000,1100,1200,1300,1400,1500,1600,1700,1800,1900,2000,2100,2200,2300,2400,2500,2600,2700,2800,2900,3000],"tickSize":-5}}}}
 ]
},
{
 "width":292,"height":183,
 "title":"CRNISPH4LSIGSRT",
 "resolve":{"axis":{"x":"independent","y":"independent"}},
 "layer":[
  {"data":{"name":"zC"},"mark":{"type":"line","color":"#e8262a","strokeWidth":2.5},
   "encoding":{
    "x":{"field":"w","type":"quantitative","scale":{"domain":[0.34,2.1],"nice":false,"zero":false},"axis":{"orient":"bottom","title":"wavelength (μm)","values":[0.4,0.5,0.6,0.7,0.8,0.9,1.0,1.1,1.2,1.3,1.4,1.5,1.6,1.7,1.8,1.9,2.0],"format":".1f","labelExpr":"(datum.value==0.5||datum.value==1||datum.value==1.5||datum.value==2)?datum.label:''","tickSize":-5,"labelPadding":11,"titlePadding":2}},
    "y":{"field":"v","type":"quantitative","scale":{"domain":[-100,3050],"nice":false,"zero":false},"axis":{"orient":"left","title":"DN m² sr μm/(W s)","values":[0,100,200,300,400,500,600,700,800,900,1000,1100,1200,1300,1400,1500,1600,1700,1800,1900,2000,2100,2200,2300,2400,2500,2600,2700,2800,2900,3000],"format":"d","labelExpr":"datum.value%500==0?datum.label:''","tickSize":-5,"labelPadding":4,"titlePadding":17}}}},
  {"data":{"name":"sC"},"mark":{"type":"rule","strokeWidth":1.6,"strokeDash":[3,2],"clip":true},
   "encoding":{
    "x":{"field":"w","type":"quantitative","axis":null},
    "y":{"field":"lo","type":"quantitative","axis":null},
    "y2":{"field":"hi"},
    "color":{"field":"t","type":"quantitative","scale":{"domain":[0.068,3.9,7.26,11.09,14.45,18.76,22.1,27.39,32.18,35.54,40.33,44.17,48],"range":["#000000","#30003c","#5c00a0","#1414f0","#0064ff","#00f0ff","#00ffa0","#00f000","#a0f000","#ffff00","#ff9000","#ff2000","#ff0000"]},"legend":{"title":"Integration time (ms)","legendX":23,"legendY":5,"values":[0.068,10,20,30,40,48],"labelExpr":"''+datum.value"}}}},
  {"data":{"name":"C"},"mark":{"type":"line","strokeWidth":4},
   "encoding":{
    "x":{"field":"w","type":"quantitative","axis":null},
    "y":{"field":"v","type":"quantitative","axis":null},
    "detail":{"field":"s"},
    "color":{"field":"t","type":"quantitative","scale":{"domain":[0.068,3.9,7.26,11.09,14.45,18.76,22.1,27.39,32.18,35.54,40.33,44.17,48],"range":["#000000","#30003c","#5c00a0","#1414f0","#0064ff","#00f0ff","#00ffa0","#00f000","#a0f000","#ffff00","#ff9000","#ff2000","#ff0000"]},"legend":{"title":"Integration time (ms)","legendX":23,"legendY":5,"values":[0.068,10,20,30,40,48],"labelExpr":"''+datum.value"}}}},
  {"data":{"name":"pC"},"mark":{"type":"square","size":4,"color":"#111","opacity":1},
   "encoding":{"x":{"field":"w","type":"quantitative","axis":null},"y":{"field":"v","type":"quantitative","axis":null}}},
  {"data":{"name":"zC"},"mark":{"type":"line","strokeOpacity":0},
   "encoding":{
    "x":{"field":"w","type":"quantitative","axis":{"orient":"top","title":null,"labels":false,"values":[0.4,0.5,0.6,0.7,0.8,0.9,1.0,1.1,1.2,1.3,1.4,1.5,1.6,1.7,1.8,1.9,2.0],"tickSize":-5}},
    "y":{"field":"v","type":"quantitative","axis":{"orient":"right","title":null,"labels":false,"values":[0,100,200,300,400,500,600,700,800,900,1000,1100,1200,1300,1400,1500,1600,1700,1800,1900,2000,2100,2200,2300,2400,2500,2600,2700,2800,2900,3000],"tickSize":-5}}}}
 ]
},
{
 "width":292,"height":183,
 "title":"CRNISPH4LSIGLNG",
 "resolve":{"axis":{"x":"independent","y":"independent"}},
 "layer":[
  {"data":{"name":"zD"},"mark":{"type":"line","color":"#e8262a","strokeWidth":2.5},
   "encoding":{
    "x":{"field":"w","type":"quantitative","scale":{"domain":[0.34,2.1],"nice":false,"zero":false},"axis":{"orient":"bottom","title":"wavelength (μm)","values":[0.4,0.5,0.6,0.7,0.8,0.9,1.0,1.1,1.2,1.3,1.4,1.5,1.6,1.7,1.8,1.9,2.0],"format":".1f","labelExpr":"(datum.value==0.5||datum.value==1||datum.value==1.5||datum.value==2)?datum.label:''","tickSize":-5,"labelPadding":11,"titlePadding":2}},
    "y":{"field":"v","type":"quantitative","scale":{"domain":[-100,3050],"nice":false,"zero":false},"axis":{"orient":"left","title":"DN m² sr μm/(W s)","values":[0,100,200,300,400,500,600,700,800,900,1000,1100,1200,1300,1400,1500,1600,1700,1800,1900,2000,2100,2200,2300,2400,2500,2600,2700,2800,2900,3000],"format":"d","labelExpr":"datum.value%500==0?datum.label:''","tickSize":-5,"labelPadding":4,"titlePadding":17}}}},
  {"data":{"name":"D"},"mark":{"type":"rule","strokeWidth":2.8},
   "encoding":{
    "x":{"field":"w","type":"quantitative","axis":null},
    "y":{"field":"lo","type":"quantitative","axis":null},
    "y2":{"field":"hi"},
    "color":{"field":"t","type":"quantitative","scale":{"domain":[50,66,80,96,110,128,142,164,184,198,218,234,250],"range":["#000000","#30003c","#5c00a0","#1414f0","#0064ff","#00f0ff","#00ffa0","#00f000","#a0f000","#ffff00","#ff9000","#ff2000","#ff0000"]},"legend":{"title":"Integration time (ms)","legendX":23,"legendY":5,"values":[50,100,150,200,250],"labelExpr":"''+datum.value"}}}},
  {"data":{"name":"zD"},"mark":{"type":"line","strokeOpacity":0},
   "encoding":{
    "x":{"field":"w","type":"quantitative","axis":{"orient":"top","title":null,"labels":false,"values":[0.4,0.5,0.6,0.7,0.8,0.9,1.0,1.1,1.2,1.3,1.4,1.5,1.6,1.7,1.8,1.9,2.0],"tickSize":-5}},
    "y":{"field":"v","type":"quantitative","axis":{"orient":"right","title":null,"labels":false,"values":[0,100,200,300,400,500,600,700,800,900,1000,1100,1200,1300,1400,1500,1600,1700,1800,1900,2000,2100,2200,2300,2400,2500,2600,2700,2800,2900,3000],"tickSize":-5}}}}
 ]
}
]
}
